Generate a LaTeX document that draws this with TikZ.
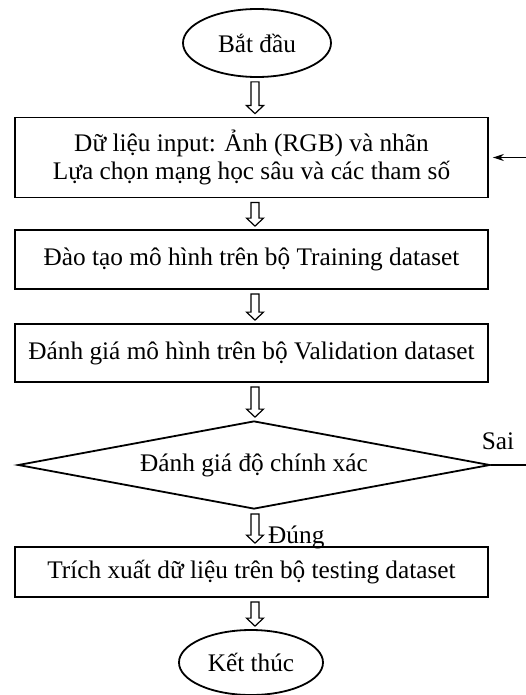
\documentclass[tikz,border=0pt]{standalone}
\usepackage{fontspec}
\setmainfont{Liberation Serif}
\usetikzlibrary{shapes.geometric,calc,arrows.meta}
\tikzset{
  every node/.style={font=\fontsize{25.3}{28}\selectfont, align=center, inner sep=0pt},
  procbox/.style={draw, line width=1.8pt, minimum width=473pt},
  terminal/.style={draw, ellipse, line width=1.8pt},
  decision/.style={draw, diamond, aspect=5.36, line width=1.8pt, minimum width=472pt, minimum height=88pt},
  % hollow block arrow between two points on a vertical line
  hollowarrow/.style={draw, line width=1.2pt, fill=white, to path={
    let \p1=($(\tikztostart)+(0pt,-4pt)$), \p2=($(\tikztotarget)+(0pt,3pt)$) in
    (\x1-4pt,\y1) -- (\x1+4pt,\y1) -- (\x1+4pt,\y2+8pt) -- (\x1+8.5pt,\y2+8pt)
    -- (\x1,\y2) -- (\x1-8.5pt,\y2+8pt) -- (\x1-4pt,\y2+8pt) -- cycle}},
  thinarrow/.style={line width=1.6pt, -{Stealth[length=11pt,width=7pt]}},
}
\begin{document}
\begin{tikzpicture}[x=1pt, y=-1pt]
\useasboundingbox (0,0) rectangle (525,695);

\coordinate (spine) at (255,0);
\coordinate (loop) at (545,0);

\node[terminal, minimum width=148pt, minimum height=68pt] (start) at (257,43) {Bắt đầu};
\node[procbox, minimum height=80pt] (in1) at (251.5,157.5) {Dữ liệu input: Ảnh (RGB) và nhãn\\Lựa chọn mạng học sâu và các tham số};
\node[procbox, minimum height=59pt] (train) at (251.5,259.5) {Đào tạo mô hình trên bộ Training dataset};
\node[procbox, minimum height=58pt] (valid) at (251.5,353) {Đánh giá mô hình trên bộ Validation dataset};
\node[decision] (dia) at (254,465) {Đánh giá độ chính xác};
\node[procbox, minimum height=50pt] (test) at (251.5,572) {Trích xuất dữ liệu trên bộ testing dataset};
\node[terminal, minimum width=144pt, minimum height=65pt] (stop) at (251,662.5) {Kết thúc};

\draw[hollowarrow] (start.south -| spine) to (in1.north -| spine);
\draw[hollowarrow] (in1.south -| spine) to (train.north -| spine);
\draw[hollowarrow] (train.south -| spine) to (valid.north -| spine);
\draw[hollowarrow] (valid.south -| spine) to (dia.north -| spine);
\draw[hollowarrow] (dia.south -| spine) to (test.north -| spine);
\draw[hollowarrow] (test.south -| spine) to (stop.north -| spine);

\node[anchor=west] (yes) at (268,537) {Đúng};
\node (no) at (498,441) {Sai};

\draw[thinarrow] (dia.east) -- (dia.east -| loop) |- ([xshift=4pt]in1.east);
\end{tikzpicture}
\end{document}
